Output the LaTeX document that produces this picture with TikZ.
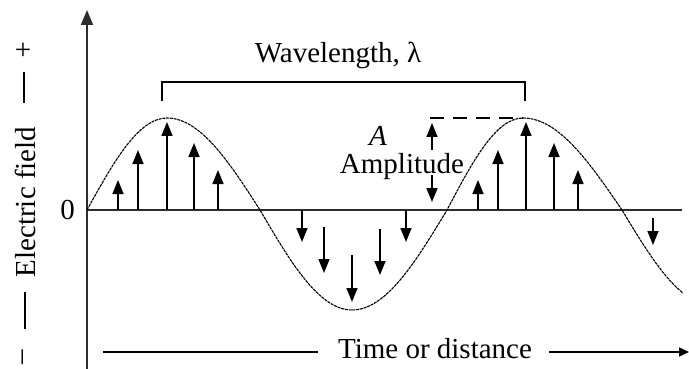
\documentclass[tikz,border=0pt]{standalone}
\usepackage{fontspec}
\setmainfont{Liberation Serif}
\usetikzlibrary{arrows.meta,positioning}
\definecolor{WaveInk}{RGB}{0,0,0}
\definecolor{WaveAxis}{RGB}{45,45,45}
\tikzset{
  wave/axis/.style={
    line width=1.7pt,
    draw=WaveAxis
  },
  wave/vec/.style={-{Triangle[length=14pt,width=11pt]}, line width=1.6pt, draw=WaveInk},
  wave/curve/.style={line width=1.1pt, draw=WaveInk, dash pattern=on 3pt off 0.8pt},
  wave/rule/.style={line width=1.4pt, draw=WaveInk},
  wave/label/.style={font=\fontsize{29}{34}\selectfont, text=WaveInk, inner sep=0pt}
}

\begin{document}
\begin{tikzpicture}[x=1pt,y=-1pt]
  \useasboundingbox (0,0) rectangle (689,369);

  % axes
  \coordinate (origin) at (87,210);
  \coordinate (ytop) at (87,10);
  \coordinate (ybot) at (87,369);
  \coordinate (xend) at (682,210);
  \draw[wave/axis,-{Triangle[length=15pt,width=12pt]}] (ybot) -- (ytop);
  \draw[wave/axis] (origin) -- (xend);
  \node[wave/label,left=12pt of origin] (zero) {0};

  % the wave
  \begin{scope}
    \clip (86,0) rectangle (683,369);
    \draw[wave/curve] (origin) sin (167,118) cos (260,210) sin (352,310) cos (447,210)
      sin (523,118) cos (622,210) sin (712,305);
  \end{scope}

  % field vectors
  \foreach \x/\y in {118/180,138/150,167/122,194/143,218/170,478/180,498/150,526/122,554/143,578/170}
    \draw[wave/vec] (\x,210) -- (\x,\y);
  \foreach \x/\a/\b in {302/210/242,324/227/273,352/255/302,380/229/275,406/210/242,653/218/245}
    \draw[wave/vec] (\x,\a) -- (\x,\b);

  % wavelength
  \coordinate (wl a) at (162,101);
  \coordinate (wl b) at (525,101);
  \draw[wave/rule] (wl a) -- ++(0,-19) -| (wl b);
  \node[wave/label] (wl label) at (338,55) {Wavelength, λ};

  % amplitude
  \coordinate (amp a) at (430,118);
  \coordinate (crest) at (523,118);
  \draw[wave/rule, dash pattern=on 14pt off 9pt] (amp a) -- (crest);
  \draw[wave/vec] (432,150) -- (432,123);
  \draw[wave/vec] (432,175) -- (432,202);
  \node[wave/label] (amp sym) at (378,136) {\textit{A}};
  \node[wave/label] (amp label) at (402,167) {Amplitude};

  % time axis
  \node[wave/label] (time label) at (435,349) {Time or distance};
  \coordinate (t start) at (103,352);
  \coordinate (t end) at (318,352);
  \coordinate (t from) at (549,352);
  \coordinate (t tip) at (689,352);
  \draw[wave/rule] (t start) -- (t end);
  \draw[wave/rule,-{Triangle[length=10pt,width=9pt]}] (t from) -- (t tip);

  % field label
  \node[wave/label,rotate=90] (field label) at (25,202) {Electric field};
  \node[wave/label] (plus) at (23,51) {+};
  \node[wave/label,rotate=90] (minus) at (26,357) {–};
  \coordinate (fl a) at (24,72);
  \coordinate (fl b) at (24,103);
  \coordinate (fl c) at (25,292);
  \coordinate (fl d) at (25,329);
  \draw[wave/rule] (fl a) -- (fl b);
  \draw[wave/rule] (fl c) -- (fl d);
\end{tikzpicture}
\end{document}
